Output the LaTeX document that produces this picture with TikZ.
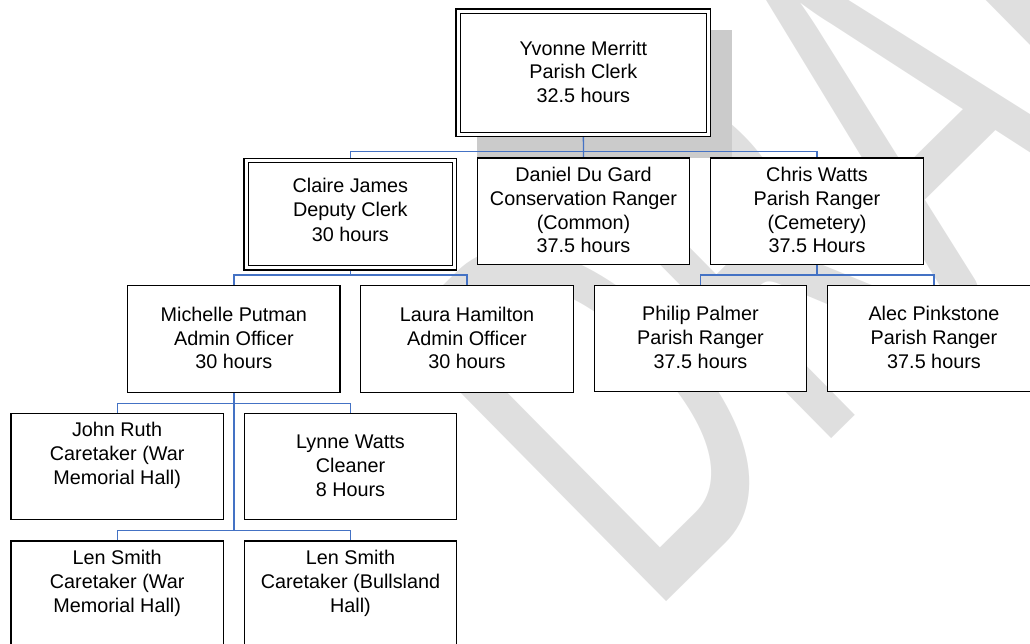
\documentclass[tikz,border=0pt]{standalone}
\usepackage{fontspec}
\setmainfont{Liberation Sans}
\newfontfamily\wmfont[FakeStretch=0.629]{Carlito}
\definecolor{linkblue}{RGB}{68,114,196}
\definecolor{shadowgray}{RGB}{203,203,203}
\definecolor{wmgray}{RGB}{223,223,223}
\pgfdeclarelayer{wmlayer}
\pgfdeclarelayer{backlayer}
\pgfsetlayers{wmlayer,backlayer,main}
\newcommand\lstrut{\rule[-5.85pt]{0pt}{23.7pt}}
\newcommand\dstrut{\rule[-12.45pt]{0pt}{30.3pt}}
\begin{document}
\begin{tikzpicture}[x=1pt,y=-1pt,
  box/.style={draw=black, line width=1.3pt, fill=white, minimum width=212.4pt,
    minimum height=106.4pt, inner sep=0pt, align=center,
    font=\fontsize{19.8pt}{23.7pt}\selectfont},
  dbox/.style={box, double=white, double distance=3pt},
  link/.style={draw=linkblue, line width=1.3pt},
  wmark/.style={text=wmgray, inner sep=0pt, anchor=base west,
    font=\wmfont\fontsize{595pt}{595pt}\selectfont}]
\useasboundingbox (0,0) rectangle (1030,644);
\clip (0,0) rectangle (1030,644);
\begin{pgfonlayer}{wmlayer}
  \clip (0,0) rectangle (1030,644);
  \node[wmark, rotate=44.6] (draft) at (648.1,619.6) {DRAFT};
\end{pgfonlayer}

% boxes
\node[dbox, minimum width=250.35pt, minimum height=123.35pt] (yvonne) at (583.35,72.85)
  {\lstrut Yvonne Merritt\\\lstrut Parish Clerk\\\lstrut 32.5 hours};
\node[dbox, minimum width=208.55pt, minimum height=107.5pt] (claire) at (350.35,214.15)
  {\lstrut Claire James\\\lstrut Deputy Clerk\\\dstrut 30 hours};
\node[box] (daniel) at (583.5,211.3)
  {\lstrut Daniel Du Gard\\\lstrut Conservation Ranger\\\lstrut (Common)\\\lstrut 37.5 hours};
\node[box] (chris) at (817,211.3)
  {\lstrut Chris Watts\\\lstrut Parish Ranger\\\lstrut (Cemetery)\\\lstrut 37.5 Hours};
\node[box] (michelle) at (233.85,339)
  {\lstrut Michelle Putman\\\lstrut Admin Officer\\\lstrut 30 hours};
\node[box] (laura) at (467,339)
  {\lstrut Laura Hamilton\\\lstrut Admin Officer\\\lstrut 30 hours};
\node[box] (philip) at (700.5,338.5)
  {\lstrut Philip Palmer\\\lstrut Parish Ranger\\\lstrut 37.5 hours};
\node[box] (alec) at (934,338.5)
  {\lstrut Alec Pinkstone\\\lstrut Parish Ranger\\\lstrut 37.5 hours};
\node[box] (john) at (117.15,466.5)
  {\lstrut John Ruth\\\lstrut Caretaker (War\\\lstrut Memorial Hall)\\\lstrut};
\node[box] (lynne) at (350.5,466.5)
  {\lstrut Lynne Watts\\\lstrut Cleaner\\\lstrut 8 Hours};
\node[box] (lenA) at (117.15,594.2)
  {\lstrut Len Smith\\\lstrut Caretaker (War\\\lstrut Memorial Hall)\\\lstrut};
\node[box] (lenB) at (350.5,594.2)
  {\lstrut Len Smith\\\lstrut Caretaker (Bullsland\\\lstrut Hall)\\\lstrut};

\begin{pgfonlayer}{backlayer}
  \fill[shadowgray] (477,30) rectangle (731.7,157.7);
  \coordinate (b1) at (583.5,151.7);
  \coordinate (b2) at (350.35,275);
  \coordinate (b3) at (817,275);
  \coordinate (b4) at (233.85,403.3);
  \coordinate (b5) at (233.85,530.7);
  \draw[link] (yvonne.south) -- (daniel.north);
  \draw[link] (claire.north) |- (b1) -| (chris.north);
  \draw[link] (claire.south) -- (b2);
  \draw[link] (michelle.north) |- (b2) -| (laura.north);
  \draw[link] (chris.south) -- (b3);
  \draw[link] (philip.north) |- (b3) -| (alec.north);
  \draw[link] (michelle.south) -- (b5);
  \draw[link] (john.north) |- (b4) -| (lynne.north);
  \draw[link] (lenA.north) |- (b5) -| (lenB.north);
\end{pgfonlayer}
\end{tikzpicture}
\end{document}
